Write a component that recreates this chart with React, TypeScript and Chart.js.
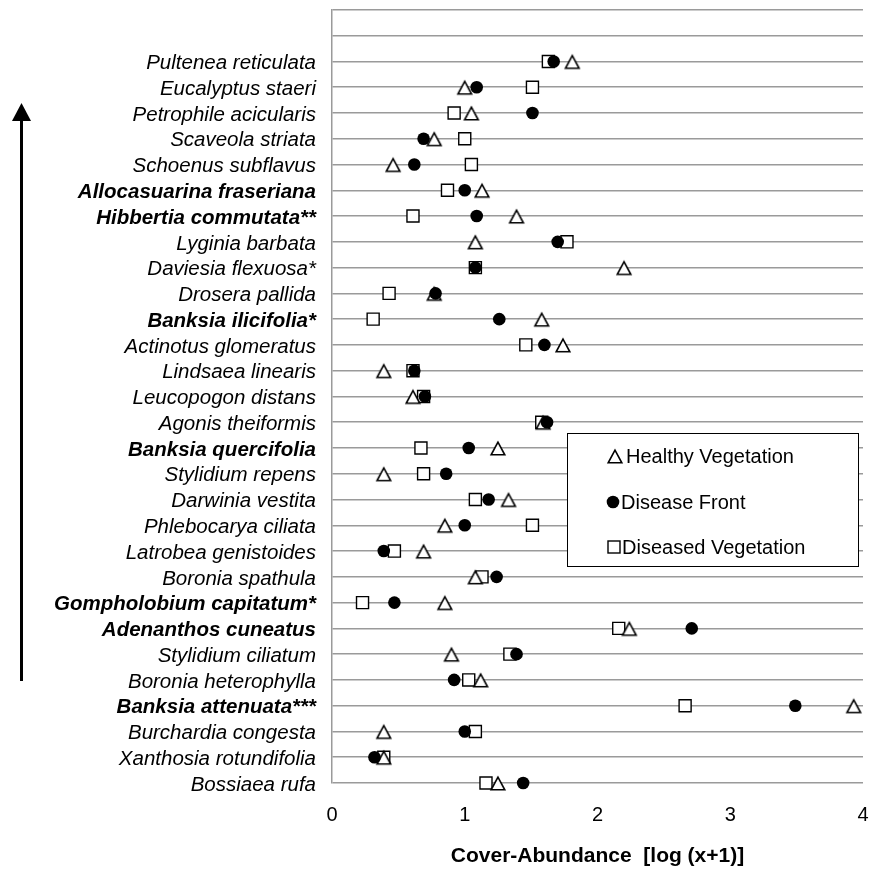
import React, { useEffect, useRef } from "react";
import { Chart, registerables } from "chart.js";

Chart.register(...registerables);

// Species, listed top to bottom as in the chart
const species = [
  "Pultenea reticulata",
  "Eucalyptus staeri",
  "Petrophile acicularis",
  "Scaveola striata",
  "Schoenus subflavus",
  "Allocasuarina fraseriana",
  "Hibbertia commutata**",
  "Lyginia barbata",
  "Daviesia flexuosa*",
  "Drosera pallida",
  "Banksia ilicifolia*",
  "Actinotus glomeratus",
  "Lindsaea linearis",
  "Leucopogon distans",
  "Agonis theiformis",
  "Banksia quercifolia",
  "Stylidium repens",
  "Darwinia vestita",
  "Phlebocarya ciliata",
  "Latrobea genistoides",
  "Boronia spathula",
  "Gompholobium capitatum*",
  "Adenanthos cuneatus",
  "Stylidium ciliatum",
  "Boronia heterophylla",
  "Banksia attenuata***",
  "Burchardia congesta",
  "Xanthosia rotundifolia",
  "Bossiaea rufa",
];

const boldSpecies = [
  "Allocasuarina fraseriana",
  "Hibbertia commutata**",
  "Banksia ilicifolia*",
  "Banksia quercifolia",
  "Gompholobium capitatum*",
  "Adenanthos cuneatus",
  "Banksia attenuata***",
];

const healthyVegetation = [
  1.81, 1.0, 1.05, 0.77, 0.46, 1.13, 1.39, 1.08, 2.2, 0.77,
  1.58, 1.74, 0.39, 0.61, 1.59, 1.25, 0.39, 1.33, 0.85, 0.69,
  1.08, 0.85, 2.24, 0.9, 1.12, 3.93, 0.39, 0.39, 1.25,
];

const diseaseFront = [
  1.67, 1.09, 1.51, 0.69, 0.62, 1.0, 1.09, 1.7, 1.08, 0.78,
  1.26, 1.6, 0.62, 0.7, 1.62, 1.03, 0.86, 1.18, 1.0, 0.39,
  1.24, 0.47, 2.71, 1.39, 0.92, 3.49, 1.0, 0.32, 1.44,
];

const diseasedVegetation = [
  1.63, 1.51, 0.92, 1.0, 1.05, 0.87, 0.61, 1.77, 1.08, 0.43,
  0.31, 1.46, 0.61, 0.69, 1.58, 0.67, 0.69, 1.08, 1.51, 0.47,
  1.13, 0.23, 2.16, 1.34, 1.03, 2.66, 1.08, 0.39, 1.16,
];

const seriesNames = ["Healthy Vegetation", "Disease Front", "Diseased Vegetation"];
const xTicks = [0, 1, 2, 3, 4];
const xTitle = "Cover-Abundance  [log (x+1)]";

const FONT = "'Liberation Sans', Arial, Helvetica, sans-serif";
const GRID = "#9a9a9a";

function makeTriangle(): HTMLCanvasElement {
  const c = document.createElement("canvas");
  c.width = 18;
  c.height = 18;
  const g = c.getContext("2d")!;
  g.beginPath();
  g.moveTo(9, 3.2);
  g.lineTo(2.2, 15.8);
  g.lineTo(15.8, 15.8);
  g.closePath();
  g.fillStyle = "#ffffff";
  g.fill();
  g.lineWidth = 1.6;
  g.strokeStyle = "#000000";
  g.stroke();
  return c;
}

function toPoints(values: number[]) {
  const n = species.length;
  return values.map((v, i) => ({ x: v, y: n - 1 - i }));
}

export default function App() {
  const canvasRef = useRef<HTMLCanvasElement | null>(null);

  useEffect(() => {
    document.body.style.margin = "0";
    const canvas = canvasRef.current;
    if (!canvas) return;
    const tri = makeTriangle();
    const n = species.length;
    const yMax = n + 1;

    const extras = {
      id: "extras",
      afterDraw(chart: any) {
        const ctx = chart.ctx;
        ctx.save();
        // arrow on the left
        ctx.strokeStyle = "#000";
        ctx.fillStyle = "#000";
        ctx.lineWidth = 3;
        ctx.beginPath();
        ctx.moveTo(21.5, 118);
        ctx.lineTo(21.5, 681);
        ctx.stroke();
        ctx.beginPath();
        ctx.moveTo(21.5, 103);
        ctx.lineTo(12, 121);
        ctx.lineTo(31, 121);
        ctx.closePath();
        ctx.fill();

        // legend box
        const lx = 567, ly = 433, lw = 291, lh = 133;
        ctx.fillStyle = "#fff";
        ctx.fillRect(lx, ly, lw, lh);
        ctx.strokeStyle = "#000";
        ctx.lineWidth = 1;
        ctx.strokeRect(lx + 0.5, ly + 0.5, lw, lh);

        ctx.font = `20px ${FONT}`;
        ctx.textBaseline = "middle";
        ctx.textAlign = "left";
        // healthy
        ctx.drawImage(tri, 615 - 9, 456 - 9);
        ctx.fillStyle = "#000";
        ctx.fillText(seriesNames[0], 626, 457);
        // disease front
        ctx.beginPath();
        ctx.arc(613, 502, 6.3, 0, Math.PI * 2);
        ctx.fill();
        ctx.fillText(seriesNames[1], 621, 503);
        // diseased
        ctx.fillStyle = "#fff";
        ctx.fillRect(608, 541, 12, 12);
        ctx.strokeStyle = "#000";
        ctx.lineWidth = 1.4;
        ctx.strokeRect(608, 541, 12, 12);
        ctx.fillStyle = "#000";
        ctx.fillText(seriesNames[2], 622, 548);
        ctx.restore();
      },
    };

    const chart = new Chart(canvas, {
      type: "scatter",
      data: {
        datasets: [
          {
            label: seriesNames[0],
            data: toPoints(healthyVegetation),
            pointStyle: tri as any,
            pointRadius: 7,
            order: 2,
            clip: false,
          },
          {
            label: seriesNames[1],
            data: toPoints(diseaseFront),
            pointStyle: "circle",
            pointRadius: 6.3,
            backgroundColor: "#000",
            borderColor: "#000",
            borderWidth: 0,
            order: 1,
            clip: false,
          },
          {
            label: seriesNames[2],
            data: toPoints(diseasedVegetation),
            pointStyle: "rect",
            pointRadius: 8.5,
            backgroundColor: "#fff",
            borderColor: "#000",
            borderWidth: 1.4,
            order: 3,
            clip: false,
          },
        ],
      },
      options: {
        animation: false,
        responsive: false,
        events: [],
        layout: { padding: { top: 9, right: 10, left: 0, bottom: 0 } },
        plugins: {
          legend: { display: false },
          tooltip: { enabled: false },
        },
        scales: {
          x: {
            type: "linear",
            min: xTicks[0],
            max: xTicks[xTicks.length - 1],
            afterBuildTicks: (scale: any) => {
              scale.ticks = xTicks.map((v) => ({ value: v }));
            },
            afterFit: (scale: any) => {
              scale.height = 89;
              scale.paddingLeft = 0;
              scale.paddingRight = 0;
            },
            grid: { display: false, drawTicks: false },
            border: { display: false },
            ticks: {
              padding: 20,
              color: "#000",
              font: { family: FONT, size: 20 },
            },
            title: {
              display: true,
              text: xTitle,
              color: "#000",
              font: { family: FONT, size: 21, weight: "bold" },
              padding: { top: 0, bottom: 3 },
            },
          },
          y: {
            type: "linear",
            min: 0,
            max: yMax,
            afterBuildTicks: (scale: any) => {
              const t = [];
              for (let v = 0; v <= yMax; v++) t.push({ value: v });
              scale.ticks = t;
            },
            afterFit: (scale: any) => {
              scale.width = 332;
              scale.paddingTop = 0;
              scale.paddingBottom = 0;
            },
            grid: {
              color: GRID,
              lineWidth: 1.5,
              drawTicks: false,
            },
            border: { display: true, color: GRID, width: 1.5 },
            ticks: {
              autoSkip: false,
              padding: 16,
              labelOffset: 2,
              color: "#000",
              callback: (value: any) => {
                const idx = n - 1 - Number(value);
                return idx >= 0 && idx < n ? species[idx] : "";
              },
              font: (ctx: any) => {
                const v = ctx.tick ? ctx.tick.value : 0;
                const idx = n - 1 - v;
                const name = idx >= 0 && idx < n ? species[idx] : "";
                return {
                  family: FONT,
                  size: 20.5,
                  style: "italic",
                  weight: boldSpecies.includes(name) ? "bold" : "normal",
                };
              },
            },
          },
        },
      },
      plugins: [extras],
    } as any);

    return () => chart.destroy();
  }, []);

  return (
    <div style={{ width: 873, height: 872 }}>
      <canvas ref={canvasRef} width={873} height={872} style={{ display: "block" }} />
    </div>
  );
}
